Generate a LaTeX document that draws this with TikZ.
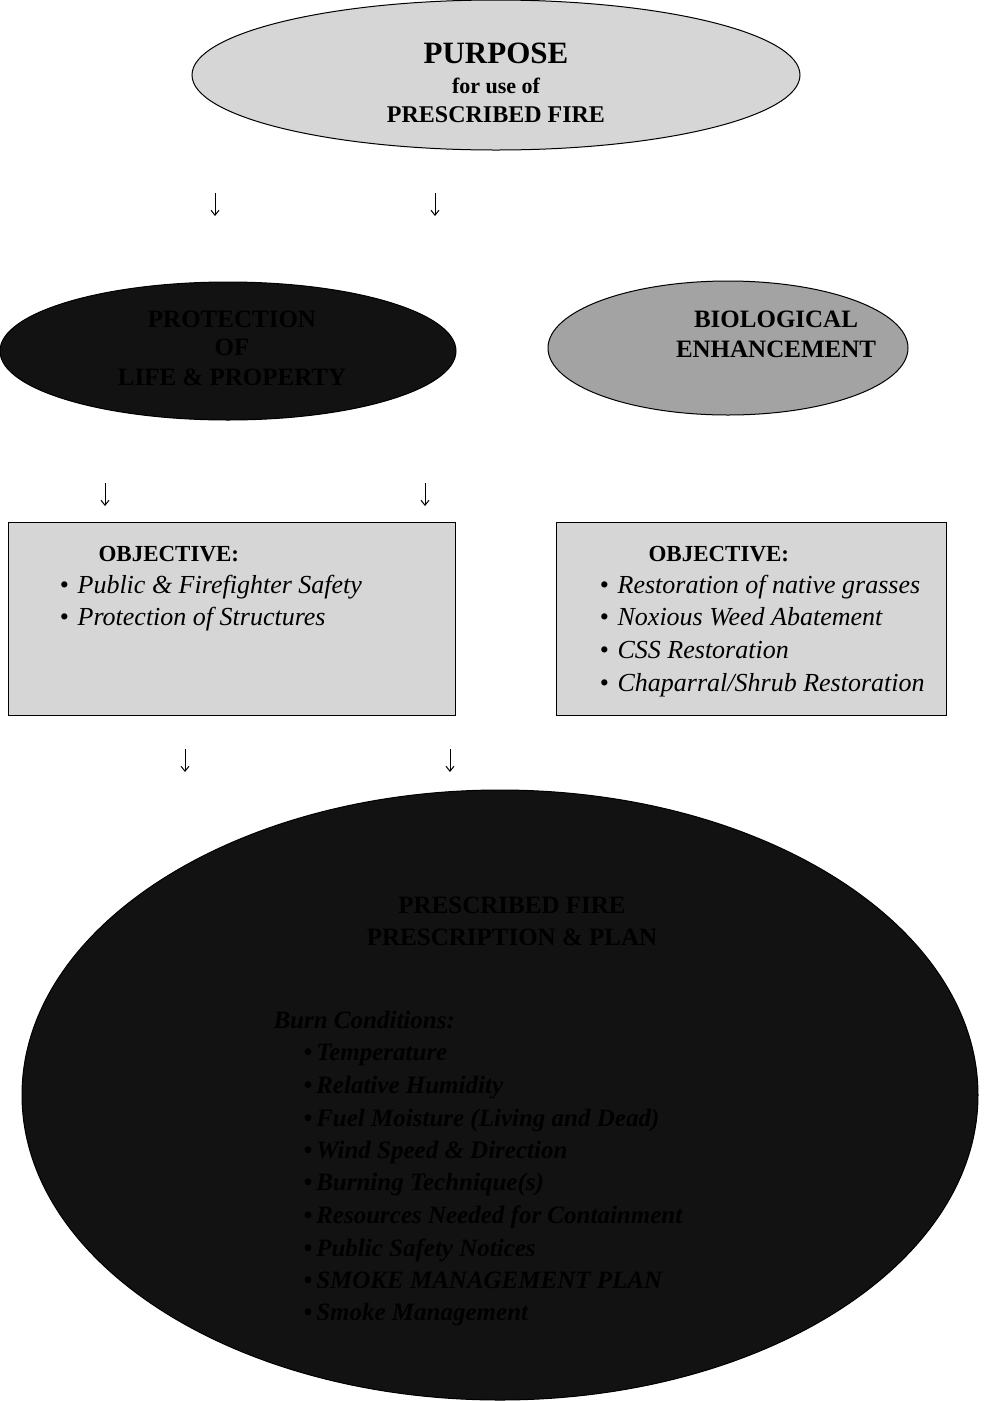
\documentclass[tikz,border=0pt]{standalone}
\usepackage{fontspec}
\setmainfont{Liberation Serif}
\usetikzlibrary{shapes.geometric,arrows.meta}
\definecolor{lightfill}{gray}{0.84}
\definecolor{midfill}{gray}{0.64}
\definecolor{darkfill}{gray}{0.07}
\newcommand\fsz[1]{\fontsize{#1}{#1}\selectfont}
\tikzset{
  oval/.style={ellipse, draw=black, line width=1pt, inner sep=0pt},
  objbox/.style={draw=black, line width=0.8pt, fill=lightfill},
  dn/.style={-{Straight Barb[length=5pt,width=8pt]}, line width=1pt},
  ttl/.style={font=\bfseries\fsz{25}, anchor=base},
  itm/.style={font=\itshape\fsz{26}, anchor=base west},
  bitm/.style={font=\bfseries\itshape\fsz{25}, anchor=base west, text=black},
}
\begin{document}
\begin{tikzpicture}[x=1pt,y=-1pt]
\useasboundingbox (0,0) rectangle (1006,1401);
\fill[white] (0,0) rectangle (1006,1401);

% purpose
\node[oval, fill=lightfill, minimum width=608pt, minimum height=150pt] (purpose) at (496,75) {};
\node[font=\bfseries\fsz{31}, anchor=base] (pt1) at (496,63) {PURPOSE};
\node[font=\bfseries\fsz{22}, anchor=base] (pt2) at (496,93) {for use of};
\node[font=\bfseries\fsz{24}, anchor=base] (pt3) at (496,122) {PRESCRIBED FIRE};

% arrows under purpose
\coordinate (a1s) at (215,193); \coordinate (a1e) at (215,216);
\coordinate (a2s) at (435,193); \coordinate (a2e) at (435,216);
\draw[dn] (a1s) -- (a1e);
\draw[dn] (a2s) -- (a2e);

% second level
\node[oval, fill=darkfill, minimum width=456pt, minimum height=138pt] (prot) at (228,351) {};
\node[ttl] (pr1) at (232,327) {PROTECTION};
\node[ttl] (pr2) at (232,355) {OF};
\node[ttl] (pr3) at (232,385) {LIFE \& PROPERTY};

\node[oval, fill=midfill, minimum width=360pt, minimum height=134pt] (bio) at (728,348) {};
\node[ttl] (b1) at (776,327) {BIOLOGICAL};
\node[ttl] (b2) at (776,357) {ENHANCEMENT};

\coordinate (a3s) at (105,483); \coordinate (a3e) at (105,506);
\coordinate (a4s) at (425,483); \coordinate (a4e) at (425,506);
\draw[dn] (a3s) -- (a3e);
\draw[dn] (a4s) -- (a4e);

% objective boxes
\node[objbox, minimum width=447pt, minimum height=193pt, anchor=north west] (objL) at (8,522) {};
\node[font=\bfseries\fsz{23}, anchor=base west] (oL) at (95,561) {OBJECTIVE:};
\node[itm] (l1) at (56,593) {\textbullet\hspace{9pt}Public \& Firefighter Safety};
\node[itm] (l2) at (56,625) {\textbullet\hspace{9pt}Protection of Structures};

\node[objbox, minimum width=390pt, minimum height=193pt, anchor=north west] (objR) at (556,522) {};
\node[font=\bfseries\fsz{23}, anchor=base west] (oR) at (645,561) {OBJECTIVE:};
\node[itm] (r1) at (596,593) {\textbullet\hspace{9pt}Restoration of native grasses};
\node[itm] (r2) at (596,625) {\textbullet\hspace{9pt}Noxious Weed Abatement};
\node[itm] (r3) at (596,658) {\textbullet\hspace{9pt}CSS Restoration};
\node[itm] (r4) at (596,691) {\textbullet\hspace{9pt}Chaparral/Shrub Restoration};

\coordinate (a5s) at (185,749); \coordinate (a5e) at (185,772);
\coordinate (a6s) at (450,749); \coordinate (a6e) at (450,772);
\draw[dn] (a5s) -- (a5e);
\draw[dn] (a6s) -- (a6e);

% prescription and plan
\node[oval, fill=darkfill, minimum width=956pt, minimum height=610pt] (plan) at (500,1095) {};
\node[font=\bfseries\fsz{25}, anchor=base] (p1) at (512,913) {PRESCRIBED FIRE};
\node[font=\bfseries\fsz{25}, anchor=base] (p2) at (512,945) {PRESCRIPTION \& PLAN};
\node[bitm] (c0) at (270,1028) {Burn Conditions:};
\node[bitm] (c1) at (300,1060) {\textbullet\hspace{4pt}Temperature};
\node[bitm] (c2) at (300,1093) {\textbullet\hspace{4pt}Relative Humidity};
\node[bitm] (c3) at (300,1126) {\textbullet\hspace{4pt}Fuel Moisture (Living and Dead)};
\node[bitm] (c4) at (300,1158) {\textbullet\hspace{4pt}Wind Speed \& Direction};
\node[bitm] (c5) at (300,1190) {\textbullet\hspace{4pt}Burning Technique(s)};
\node[bitm] (c6) at (300,1223) {\textbullet\hspace{4pt}Resources Needed for Containment};
\node[bitm] (c7) at (300,1256) {\textbullet\hspace{4pt}Public Safety Notices};
\node[bitm] (c8) at (300,1288) {\textbullet\hspace{4pt}SMOKE MANAGEMENT PLAN};
\node[bitm] (c9) at (300,1320) {\textbullet\hspace{4pt}Smoke Management};
\end{tikzpicture}
\end{document}
